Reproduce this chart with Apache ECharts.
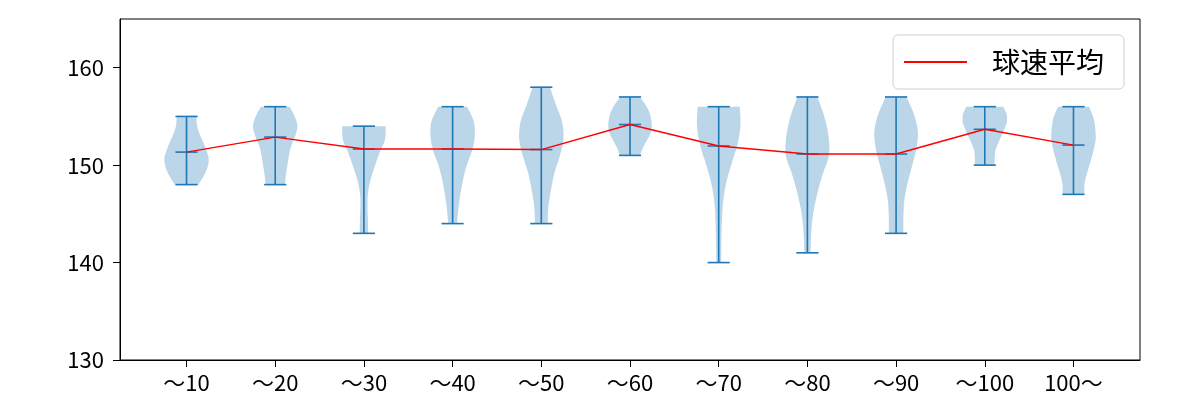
<!DOCTYPE html>
<html>
<head>
<meta charset="utf-8">
<script src="https://cdn.jsdelivr.net/npm/echarts@6/dist/echarts.min.js"></script>
<style>
html,body{margin:0;padding:0;background:#fff;}
#chart{width:1200px;height:400px;}
</style>
</head>
<body>
<div id="chart"></div>
<script>
// ---- data ----
const categories = ['～10','～20','～30','～40','～50','～60','～70','～80','～90','～100','100～'];
const minValues  = [148, 148, 143, 144, 144, 151, 140, 141, 143, 150, 147];
const maxValues  = [155, 156, 154, 156, 158, 157, 156, 157, 157, 156, 156];
const meanValues = [151.34, 152.88, 151.65, 151.66, 151.6, 154.17, 151.97, 151.14, 151.14, 153.68, 152.06];
// relative violin half-widths (1 = widest), at 9 evenly spaced levels from min (first) to max (last)
const violinProfiles = [
  [0.53, 0.77, 0.94, 1.00, 0.90, 0.75, 0.58, 0.47, 0.45],
  [0.44, 0.48, 0.55, 0.62, 0.72, 0.90, 1.00, 0.88, 0.65],
  [0.19, 0.18, 0.16, 0.18, 0.30, 0.49, 0.70, 0.95, 0.98],
  [0.20, 0.26, 0.35, 0.47, 0.64, 0.88, 1.00, 0.95, 0.65],
  [0.29, 0.32, 0.44, 0.60, 0.84, 1.00, 0.93, 0.65, 0.39],
  [0.45, 0.58, 0.75, 0.92, 0.98, 0.95, 0.86, 0.68, 0.44],
  [0.11, 0.12, 0.14, 0.19, 0.32, 0.56, 0.83, 0.98, 0.95],
  [0.14, 0.17, 0.26, 0.44, 0.68, 0.97, 0.95, 0.76, 0.45],
  [0.33, 0.33, 0.38, 0.53, 0.73, 0.92, 0.98, 0.80, 0.47],
  [0.44, 0.45, 0.48, 0.60, 0.75, 0.90, 1.00, 0.98, 0.83],
  [0.49, 0.50, 0.62, 0.77, 0.90, 1.00, 0.98, 0.90, 0.70]
];
const yTickValues = [130, 140, 150, 160];
const legendName = '球速平均';

// ---- chart ----
const FONT = '"Noto Sans CJK JP", "Noto Sans", sans-serif';
const BLUE = '#1f77b4';
const VIOLIN_HALF = 0.25;  // half of violin width in x units
const CAP_HALF = 0.125;

function catmull(pts, steps) {
  const out = [];
  for (let i = 0; i < pts.length - 1; i++) {
    const p0 = pts[Math.max(0, i - 1)], p1 = pts[i], p2 = pts[i + 1], p3 = pts[Math.min(pts.length - 1, i + 2)];
    for (let s = 0; s < steps; s++) {
      const t = s / steps, t2 = t * t, t3 = t2 * t;
      const f = (a, b, c, d) => 0.5 * ((2 * b) + (-a + c) * t + (2 * a - 5 * b + 4 * c - d) * t2 + (-a + 3 * b - 3 * c + d) * t3);
      out.push([f(p0[0], p1[0], p2[0], p3[0]), f(p0[1], p1[1], p2[1], p3[1])]);
    }
  }
  out.push(pts[pts.length - 1]);
  return out;
}

const violinData = categories.map((c, i) => [i + 1, minValues[i], maxValues[i], meanValues[i]]);
const meanData = categories.map((c, i) => [i + 1, meanValues[i]]);

const chart = echarts.init(document.getElementById('chart'), null, {renderer: 'canvas'});
chart.setOption({
  animation: false,
  backgroundColor: '#fff',
  textStyle: {fontFamily: FONT},
  grid: {left: 120, right: 60, top: 19, bottom: 40, show: true, borderColor: '#000', borderWidth: 1, backgroundColor: 'transparent'},
  legend: {
    data: [legendName],
    left: 893, top: 35,
    padding: [13, 20, 13, 11],
    itemWidth: 63, itemHeight: 2,
    icon: 'rect',
    backgroundColor: '#fff',
    borderColor: '#d0d0d0', borderWidth: 1, borderRadius: 5,
    textStyle: {fontSize: 28, color: '#000', fontFamily: FONT, padding: [0, 0, 0, 20]}
  },
  xAxis: {
    type: 'value', min: 0.25, max: 11.75,
    splitLine: {show: false},
    axisLine: {show: true, onZero: false, lineStyle: {color: '#000', width: 1}},
    axisTick: {show: true, length: 7, lineStyle: {color: '#000'}, customValues: categories.map((c, i) => i + 1)},
    axisLabel: {
      show: true, color: '#000', fontSize: 22, fontFamily: FONT, margin: 12,
      customValues: categories.map((c, i) => i + 1),
      formatter: v => categories[Math.round(v) - 1] || ''
    }
  },
  yAxis: {
    type: 'value', min: 130, max: 165,
    splitLine: {show: false},
    axisLine: {show: true, onZero: false, lineStyle: {color: '#000', width: 1}},
    axisTick: {show: true, length: 7, lineStyle: {color: '#000'}, customValues: yTickValues},
    axisLabel: {show: true, color: '#000', fontSize: 22, fontFamily: FONT, margin: 16, customValues: yTickValues}
  },
  series: [
    {
      type: 'custom',
      name: 'violin',
      data: violinData,
      encode: {x: 0, y: [1, 2]},
      z: 2,
      renderItem: function (params, api) {
        const k = params.dataIndex;
        const x = api.value(0), lo = api.value(1), hi = api.value(2), mean = api.value(3);
        const prof = violinProfiles[k];
        const n = prof.length;
        const unit = api.size([1, 0])[0];
        const right = [], left = [];
        for (let j = 0; j < n; j++) {
          const v = lo + (hi - lo) * j / (n - 1);
          const c = api.coord([x, v]);
          const w = prof[j] * VIOLIN_HALF * unit;
          right.push([c[0] + w, c[1]]);
          left.push([c[0] - w, c[1]]);
        }
        const r = catmull(right, 8);
        const l = catmull(left, 8).reverse();
        const poly = r.concat(l);
        const cLo = api.coord([x, lo]), cHi = api.coord([x, hi]), cMean = api.coord([x, mean]);
        const cap = CAP_HALF * unit;
        const ls = {stroke: BLUE, lineWidth: 1.6};
        return {
          type: 'group',
          children: [
            {type: 'polygon', shape: {points: poly}, style: {fill: 'rgba(31,119,180,0.3)', stroke: null}},
            {type: 'line', shape: {x1: cLo[0], y1: cLo[1], x2: cHi[0], y2: cHi[1]}, style: ls},
            {type: 'line', shape: {x1: cLo[0] - cap, y1: cLo[1], x2: cLo[0] + cap, y2: cLo[1]}, style: ls},
            {type: 'line', shape: {x1: cHi[0] - cap, y1: cHi[1], x2: cHi[0] + cap, y2: cHi[1]}, style: ls},
            {type: 'line', shape: {x1: cMean[0] - cap, y1: cMean[1], x2: cMean[0] + cap, y2: cMean[1]}, style: ls}
          ]
        };
      }
    },
    {
      type: 'line',
      name: legendName,
      data: meanData,
      z: 5,
      symbol: 'none',
      lineStyle: {color: '#ff0000', width: 1.4},
      itemStyle: {color: '#ff0000'}
    }
  ]
});
</script>
</body>
</html>
